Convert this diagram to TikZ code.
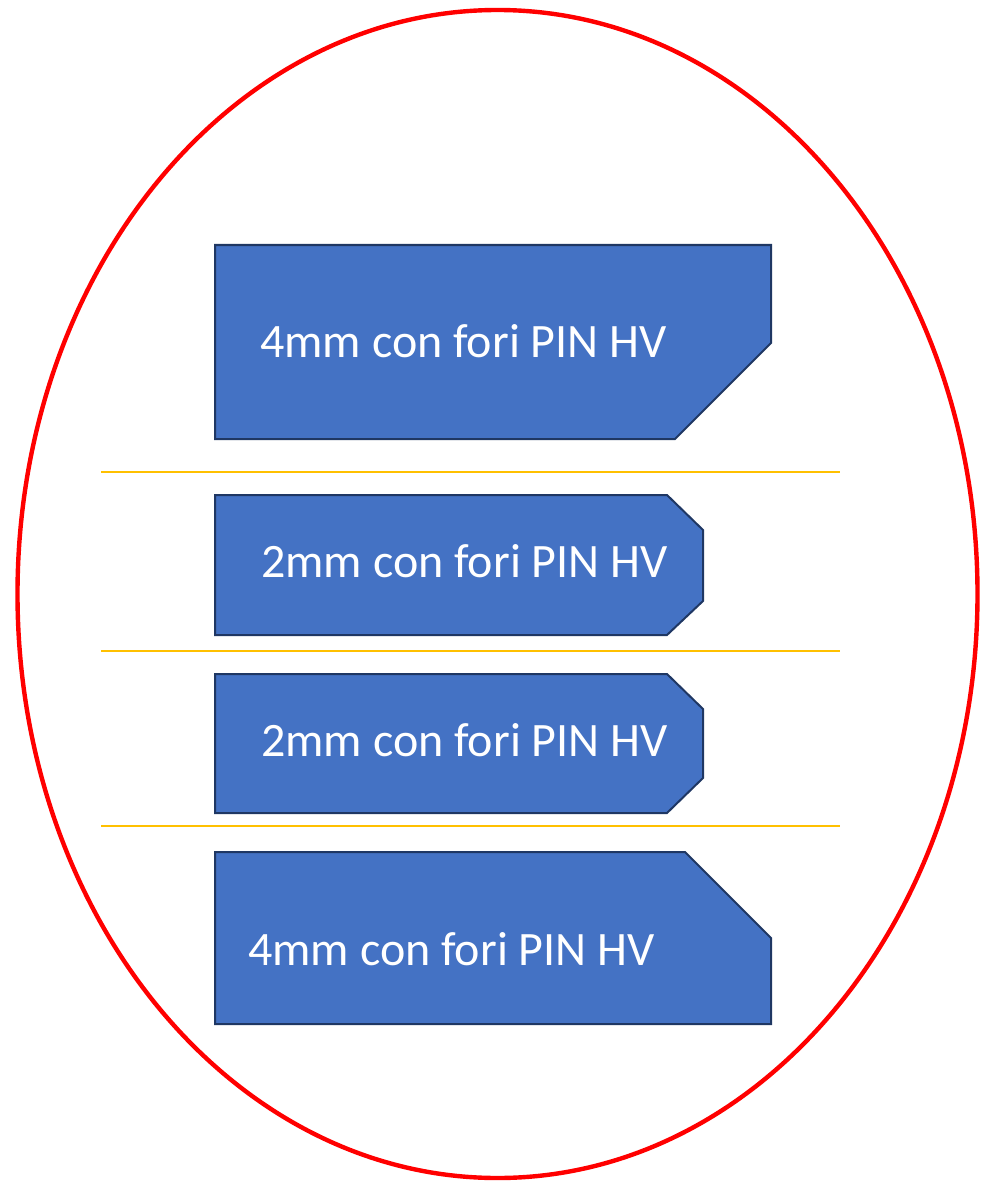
\documentclass[tikz,border=0pt]{standalone}
\usepackage{fontspec}
\setmainfont{Carlito}
\definecolor{boxfill}{HTML}{4472C4}
\definecolor{boxline}{HTML}{1F3763}
\definecolor{sepline}{HTML}{FFC000}
\definecolor{ringred}{HTML}{FF0000}
\tikzset{
  tab/.style={fill=boxfill, draw=boxline, line width=2pt, line join=miter},
  sep/.style={draw=sepline, line width=1.2pt},
  lbl/.style={anchor=base west, inner sep=0pt, text=white, font=\fontsize{48}{57}\selectfont},
}
\begin{document}
\begin{tikzpicture}[x=1pt,y=-1pt]
\useasboundingbox (0,0) rectangle (980,1182);
\draw[ringred, line width=4.4pt] (497.5,594) ellipse [x radius=480, y radius=584];
% separators
\draw[sep] (101,472) -- (840,472);
\draw[sep] (101,651) -- (840,651);
\draw[sep] (101,826) -- (840,826);
% tabs
\draw[tab] (215,245) -- (771,245) -- (771,343) -- (675,439) -- (215,439) -- cycle;
\draw[tab] (215,495) -- (667,495) -- (703,530) -- (703,601) -- (667,635) -- (215,635) -- cycle;
\draw[tab] (215,674) -- (667,674) -- (703,709) -- (703,778) -- (667,813) -- (215,813) -- cycle;
\draw[tab] (215,852) -- (685,852) -- (771,938) -- (771,1024) -- (215,1024) -- cycle;
% labels
\node[lbl] (t1) at (260,357) {4mm con fori PIN HV};
\node[lbl] (t2) at (261,577) {2mm con fori PIN HV};
\node[lbl] (t3) at (261,756) {2mm con fori PIN HV};
\node[lbl] (t4) at (248,965) {4mm con fori PIN HV};
\end{tikzpicture}
\end{document}
